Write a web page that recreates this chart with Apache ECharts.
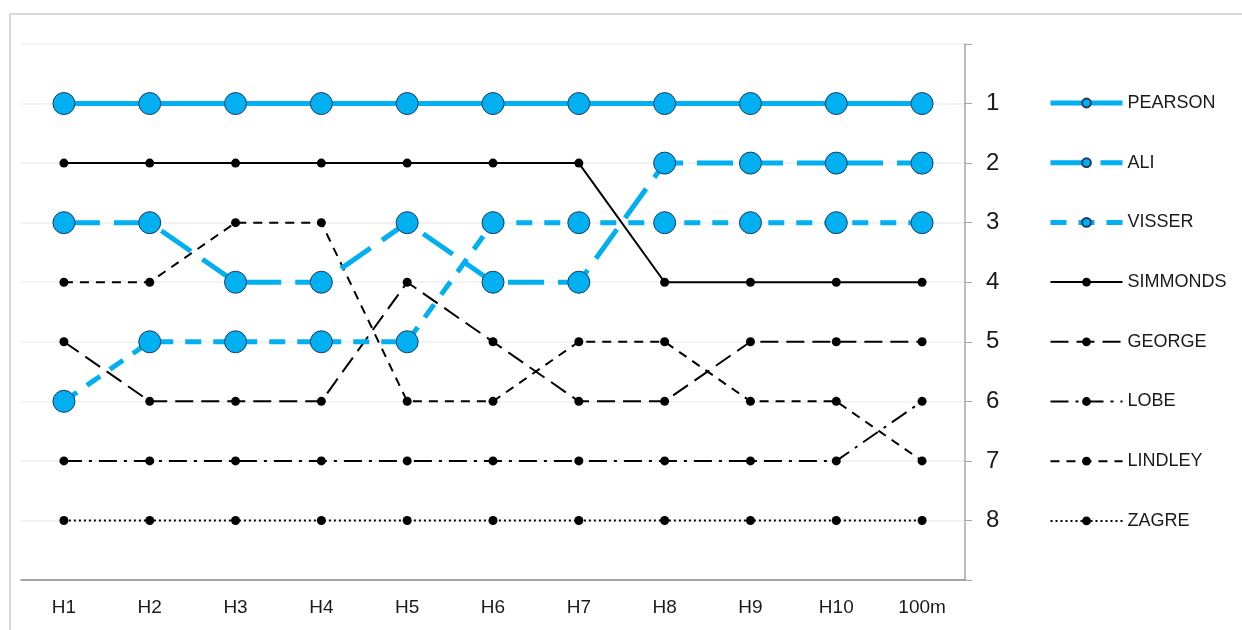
<!DOCTYPE html>
<html><head><meta charset="utf-8">
<script src="https://cdn.jsdelivr.net/npm/echarts@6/dist/echarts.min.js"></script>
<style>html,body{margin:0;padding:0;background:#fff}#c{width:1242px;height:630px}</style>
</head><body><div id="c"></div>
<script>
const categories = ['H1','H2','H3','H4','H5','H6','H7','H8','H9','H10','100m'];
const pearson  = [1,1,1,1,1,1,1,1,1,1,1];
const ali      = [3,3,4,4,3,4,4,2,2,2,2];
const visser   = [6,5,5,5,5,3,3,3,3,3,3];
const simmonds = [2,2,2,2,2,2,2,4,4,4,4];
const george   = [5,6,6,6,4,5,6,6,5,5,5];
const lobe     = [7,7,7,7,7,7,7,7,7,7,6];
const lindley  = [4,4,3,3,6,6,5,5,6,6,7];
const zagre    = [8,8,8,8,8,8,8,8,8,8,8];
const names = ['PEARSON','ALI','VISSER','SIMMONDS','GEORGE','LOBE','LINDLEY','ZAGRE'];

const BLUE = '#00B0F0', NAVY = '#1F3864', BLACK = '#000000';
function blueSeries(name, data, dash){
  return {name, type:'line', data, z:5, symbol:'circle', symbolSize:22, showAllSymbol:true,
    lineStyle:{color:BLUE, width:5, type:dash, cap:'butt'},
    itemStyle:{color:BLUE, borderColor:NAVY, borderWidth:1}};
}
function blackSeries(name, data, dash){
  return {name, type:'line', data, z:3, symbol:'circle', symbolSize:9, showAllSymbol:true,
    lineStyle:{color:BLACK, width:2, type:dash, cap:'butt'},
    itemStyle:{color:BLACK}};
}
const seriesList = [
  blueSeries(names[0], pearson, 'solid'),
  blueSeries(names[1], ali, [36,14]),
  blueSeries(names[2], visser, [16,12]),
  blackSeries(names[3], simmonds, 'solid'),
  blackSeries(names[4], george, [18,8]),
  blackSeries(names[5], lobe, [18,7,3,7]),
  blackSeries(names[6], lindley, [9,7]),
  blackSeries(names[7], zagre, [2,3])
];
const legendData = seriesList.map(s => ({name:s.name, lineStyle:{width:s.lineStyle.width}}));
const FONT = 'Liberation Sans, Arial, sans-serif';
const chart = echarts.init(document.getElementById('c'));
chart.setOption({
  animation:false,
  textStyle:{fontFamily:FONT},
  graphic:[{type:'rect', shape:{x:10,y:14,width:1250,height:640}, style:{fill:'none', stroke:'#d9d9d9', lineWidth:2}, silent:true}],
  grid:{left:21, right:1242-965, top:44, bottom:630-580, containLabel:false},
  legend:{orient:'vertical', left:1048, top:93, padding:0, itemWidth:72, itemHeight:11, itemGap:39.7,
    data:legendData, selectedMode:false,
    textStyle:{fontSize:18, color:'#1a1a1a', lineHeight:20, fontFamily:FONT}},
  xAxis:{type:'category', data:categories, boundaryGap:true, position:'bottom',
    axisLine:{onZero:false, lineStyle:{color:'#8c8c8c', width:1.5}},
    axisTick:{show:false},
    axisLabel:{fontSize:19, color:'#1a1a1a', margin:18},
    splitLine:{show:false}},
  yAxis:{type:'value', position:'right', inverse:true, min:0, max:9, interval:1,
    axisLine:{show:true, lineStyle:{color:'#a6a6a6', width:1.5}},
    axisTick:{show:true, length:7, lineStyle:{color:'#a6a6a6'}},
    axisLabel:{fontSize:24, color:'#1a1a1a', margin:21,
      formatter:v => (v>=1 && v<=8) ? String(v) : ''},
    splitLine:{show:true, lineStyle:{color:'#efefef', width:1.5}}},
  series:seriesList
});
</script></body></html>
